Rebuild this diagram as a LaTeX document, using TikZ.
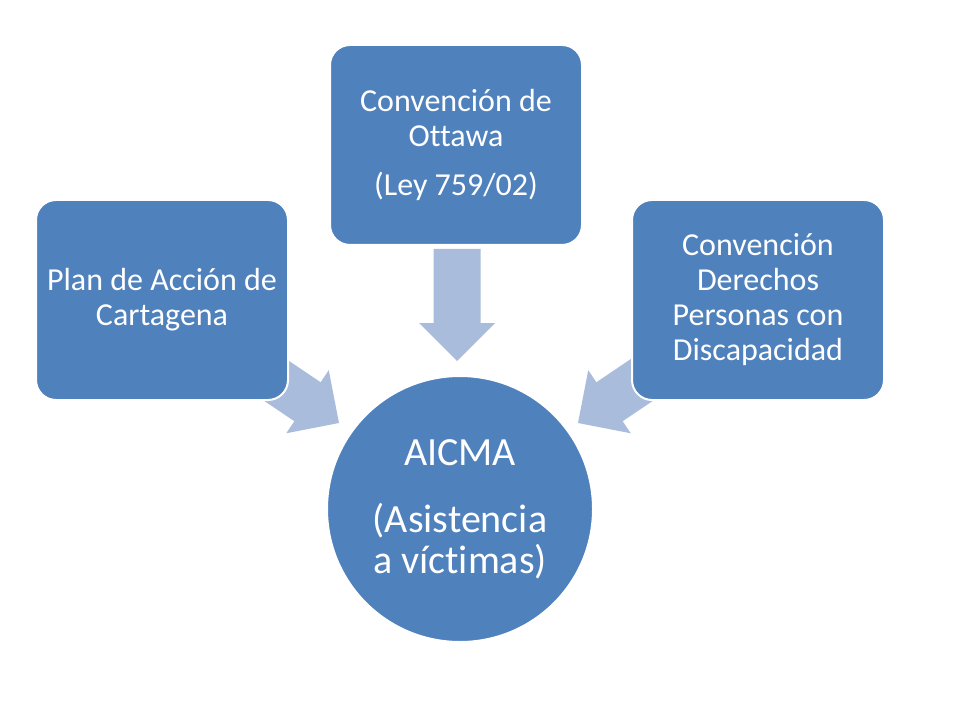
\documentclass[tikz,border=0pt]{standalone}
\usepackage{fontspec}
\setmainfont[Ligatures={NoCommon}]{Carlito}
\definecolor{boxblue}{HTML}{4F81BD}
\definecolor{arrowblue}{HTML}{A9BCDB}
\begin{document}
\begin{tikzpicture}[x=0.75pt,y=-0.75pt,
  box/.style={rectangle, rounded corners=15pt, fill=boxblue, draw=white, line width=1.5pt,
    minimum width=189pt, minimum height=150pt, text=white, align=center,
    font=\fontsize{24}{26.25}\selectfont, inner sep=0pt},
  hub/.style={circle, fill=boxblue, draw=white, line width=1.5pt, minimum size=199.5pt,
    text=white, align=center, font=\fontsize{30}{30.75}\selectfont, inner sep=0pt},
  blockarrow/.style={fill=arrowblue}]
\useasboundingbox[fill=white] (0,0) rectangle (960,720);
% arrows (drawn first, boxes cover their tails)
\def\arrowshape{(0,0) -- (-38,38) -- (-38,23.5) -- (-112,23.5) -- (-112,-23.5) -- (-38,-23.5) -- (-38,-38) -- cycle}
\path[blockarrow, shift={(457,361)}, rotate=-90] \arrowshape;
\path[blockarrow, shift={(339,423)}, rotate=-34] \arrowshape;
\path[blockarrow, shift={(578,423)}, rotate=-146] \arrowshape;
% nodes
\node[box] (plan) at (162,300) {Plan de Acción de\\Cartagena};
\node[box] (ottawa) at (456,145) {Convención de\\Ottawa\\[10.5pt](Ley 759/02)};
\node[box] (cdpd) at (758,300) {Convención\\Derechos\\Personas con\\Discapacidad};
\node[hub] (aicma) at (460,509) {AICMA\\[19.5pt](Asistencia\\a víctimas)};
\end{tikzpicture}
\end{document}
